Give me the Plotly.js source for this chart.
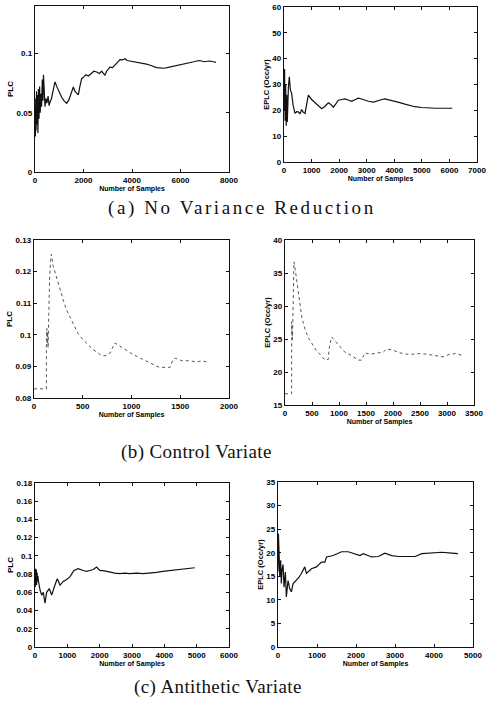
<!DOCTYPE html>
<html>
<head>
<meta charset="utf-8">
<script src="https://cdn.plot.ly/plotly-3.0.1.min.js"></script>
<style>html,body{margin:0;padding:0;background:#fff;}#chart{width:489px;height:704px;}</style>
</head>
<body>
<div id="chart"></div>
<script>
// (a) No Variance Reduction
const aPlcX = [0,15,30,45,60,80,100,120,140,165,190,215,240,270,300,330,350,375,412,450,490,540,580,619,680,740,825,900,1000,1100,1200,1306,1400,1500,1581,1650,1720,1787,1850,1925,2000,2100,2200,2337,2430,2543,2650,2750,2887,2950,3093,3200,3300,3400,3505,3600,3711,3800,3918,4050,4200,4350,4467,4600,4750,4900,5017,5150,5300,5450,5567,5700,5850,6000,6117,6250,6400,6550,6667,6800,6950,7100,7216,7350,7464];
const aPlcY = [0.045,0.03,0.062,0.035,0.068,0.04,0.065,0.033,0.07,0.045,0.072,0.05,0.066,0.055,0.078,0.06,0.082,0.065,0.055,0.062,0.058,0.064,0.056,0.059,0.062,0.068,0.076,0.072,0.067,0.063,0.06,0.058,0.061,0.066,0.0717,0.068,0.066,0.065,0.072,0.0787,0.08,0.082,0.081,0.083,0.085,0.0843,0.083,0.085,0.0815,0.085,0.0885,0.088,0.09,0.092,0.0947,0.0945,0.0955,0.094,0.0936,0.093,0.0925,0.092,0.0913,0.091,0.09,0.0888,0.088,0.0878,0.0875,0.088,0.0885,0.089,0.0895,0.09,0.0908,0.0915,0.0922,0.093,0.0936,0.094,0.093,0.0935,0.0936,0.093,0.0924];
const aEplcX = [0,20,40,60,80,100,120,140,160,193,230,278,330,399,460,520,580,641,700,762,820,882,1000,1124,1250,1367,1480,1608,1700,1789,1880,1970,2100,2212,2330,2455,2570,2695,2850,3058,3250,3421,3550,3663,3850,4026,4200,4389,4550,4751,5000,5235,5500,5719,5900,6104];
const aEplcY = [20,36,16,30,14,26,15.5,24,29,33,28,26.5,22,18.8,19.5,19.4,18.6,20.3,19.2,18.8,22,25.9,24.2,22.9,21.8,20.6,21.5,22.9,22.3,21.2,22.5,23.9,24.2,24.4,24,23.5,24.1,24.7,24.3,23.5,23.2,23.9,24.2,24.4,24,23.5,23,22.4,22,21.4,21.1,20.9,20.8,20.8,20.7,20.8];
// (b) Control Variate
const bPlcX = [0,127,127,132,136,140,144,150,160,170,178,195,213,240,264,300,333,370,401,450,504,560,607,650,693,738,779,796,830,870,916,970,1019,1070,1122,1175,1225,1286,1396,1424,1448,1516,1585,1671,1722,1774];
const bPlcY = [0.0829,0.0829,0.099,0.102,0.097,0.101,0.0958,0.105,0.118,0.1235,0.1255,0.122,0.12,0.117,0.1142,0.111,0.1079,0.1055,0.1032,0.1005,0.0984,0.0967,0.0953,0.0944,0.0934,0.0934,0.0942,0.0953,0.0974,0.0966,0.0958,0.0947,0.0937,0.0929,0.0921,0.0913,0.0905,0.0897,0.0897,0.0921,0.0926,0.0918,0.0918,0.0914,0.0918,0.0914];
const bEplcX = [0,123,123,128,133,138,145,155,166,190,216,246,277,308,339,370,431,462,524,585,647,700,740,801,820,863,940,1017,1109,1233,1356,1418,1479,1572,1695,1818,1880,2004,2126,2250,2372,2496,2620,2742,2927,3051,3174,3285];
const bEplcY = [16.7,16.7,27.6,25,27,24.9,28,33,36.7,35.5,33.9,32.2,29.9,28.5,27.4,26.5,25.2,24.8,23.9,23.2,22.7,22.2,21.8,21.9,23.7,25.3,24.6,24,23,22.5,21.8,21.8,22.9,22.7,22.9,23,23.5,23.3,22.9,22.7,22.7,22.8,22.7,22.5,22.3,22.7,22.8,22.5];
// (c) Antithetic Variate
const cPlcX = [0,10,20,30,40,50,60,75,90,103,130,160,206,257,309,360,443,515,617,690,772,875,978,1081,1204,1338,1492,1600,1698,1800,1904,2007,2150,2316,2470,2624,2780,2933,3150,3345,3550,3756,3950,4168,4380,4580,4760,4940];
const cPlcY = [0.084,0.066,0.086,0.07,0.085,0.068,0.082,0.072,0.078,0.073,0.066,0.062,0.057,0.06,0.048,0.06,0.064,0.057,0.068,0.075,0.068,0.072,0.074,0.077,0.084,0.086,0.084,0.083,0.084,0.085,0.0878,0.084,0.0835,0.082,0.081,0.0805,0.081,0.0805,0.081,0.0805,0.081,0.082,0.083,0.084,0.085,0.086,0.0865,0.087];
const cEplcX = [0,10,26,45,69,85,103,130,154,189,214,257,300,343,386,472,540,600,686,729,858,986,1115,1201,1244,1415,1630,1801,1973,2101,2187,2401,2573,2744,2916,3088,3345,3516,3688,3945,4202,4460,4614];
const cEplcY = [16,24,20.5,14.9,18.4,13.5,16.3,17.5,12.7,15.9,10.6,14.1,12.4,11.7,13.4,14.1,14.8,15.6,17,15.6,16.6,17,18,18,19.1,19.4,20.2,20.2,19.8,19.4,19.8,19.1,19.2,19.9,19.4,19.2,19.2,19.2,19.8,19.9,20.1,19.9,19.8];

const xTitle = "Number of Samples";
const yTitlePlc = "PLC";
const yTitleEplc = "EPLC (Occ/yr)";
const captions = ["(a) No Variance Reduction", "(b) Control Variate", "(c) Antithetic Variate"];

const W = 489, H = 704;
const tickFont = {family: "Liberation Sans, Arial, sans-serif", size: 8, color: "#000", weight: "bold"};
const xTitleFont = {family: "Liberation Sans, Arial, sans-serif", size: 7, color: "#000", weight: "bold"};

function xd(l, r) { return [l / W, r / W]; }
function yd(t, b) { return [1 - b / H, 1 - t / H]; }

function xAxis(dom, range, dtick, anchor) {
  return {domain: dom, range: range, dtick: dtick, tick0: 0, anchor: anchor,
    showline: true, mirror: "allticks", linecolor: "#111", linewidth: 1.2,
    ticks: "inside", ticklen: 3, tickcolor: "#111", showgrid: false, zeroline: false,
    tickfont: tickFont, title: {text: xTitle, font: xTitleFont, standoff: 1}, automargin: false};
}
function yAxis(dom, range, dtick, anchor, title, tsize) {
  return {domain: dom, range: range, dtick: dtick, tick0: 0, anchor: anchor,
    showline: true, mirror: "allticks", linecolor: "#111", linewidth: 1.2,
    ticks: "inside", ticklen: 3, tickcolor: "#111", showgrid: false, zeroline: false,
    tickfont: tickFont,
    title: {text: title, font: {family: "Liberation Sans, Arial, sans-serif", size: tsize, color: "#000", weight: "bold"}, standoff: 1},
    automargin: false};
}

const solid = {color: "#111", width: 1.2};
const faint = {color: "#555", width: 1, dash: "dot"};

const traces = [
  {x: aPlcX, y: aPlcY, xaxis: "x", yaxis: "y", mode: "lines", line: solid},
  {x: aEplcX, y: aEplcY, xaxis: "x2", yaxis: "y2", mode: "lines", line: solid},
  {x: bPlcX, y: bPlcY, xaxis: "x3", yaxis: "y3", mode: "lines", line: faint},
  {x: bEplcX, y: bEplcY, xaxis: "x4", yaxis: "y4", mode: "lines", line: faint},
  {x: cPlcX, y: cPlcY, xaxis: "x5", yaxis: "y5", mode: "lines", line: solid},
  {x: cEplcX, y: cEplcY, xaxis: "x6", yaxis: "y6", mode: "lines", line: solid}
];

function cap(text, cx, cy, spacing) {
  return {text: '<span style="letter-spacing:' + spacing + 'px">' + text + '</span>',
    xref: "paper", yref: "paper", x: cx / W, y: 1 - cy / H,
    xanchor: "center", yanchor: "middle", showarrow: false,
    font: {family: "Liberation Serif, Times New Roman, serif", size: 19, color: "#111"}};
}

const layout = {
  width: W, height: H, margin: {l: 0, r: 0, t: 0, b: 0},
  paper_bgcolor: "#fff", plot_bgcolor: "#fff", showlegend: false,
  xaxis:  xAxis(xd(35, 229), [0, 8000], 2000, "y"),
  yaxis:  yAxis(yd(6, 172), [0, 0.14], 0.05, "x", yTitlePlc, 8),
  xaxis2: xAxis(xd(284, 477), [0, 7000], 1000, "y2"),
  yaxis2: yAxis(yd(7, 162), [0, 60], 10, "x2", yTitleEplc, 7.5),
  xaxis3: xAxis(xd(34, 229), [0, 2000], 500, "y3"),
  yaxis3: yAxis(yd(240, 398), [0.08, 0.13], 0.01, "x3", yTitlePlc, 8),
  xaxis4: xAxis(xd(285, 474), [0, 3500], 500, "y4"),
  yaxis4: yAxis(yd(240, 405), [15, 40], 5, "x4", yTitleEplc, 7.5),
  xaxis5: xAxis(xd(35, 229), [0, 6000], 1000, "y5"),
  yaxis5: yAxis(yd(483, 647), [0, 0.18], 0.02, "x5", yTitlePlc, 8),
  xaxis6: xAxis(xd(278, 473), [0, 5000], 1000, "y6"),
  yaxis6: yAxis(yd(482, 647), [0, 35], 5, "x6", yTitleEplc, 7.5),
  annotations: [
    cap(captions[0], 242, 208, 2.6),
    cap(captions[1], 196, 452, 0.4),
    cap(captions[2], 218, 687, 0.4)
  ]
};

Plotly.newPlot("chart", traces, layout, {staticPlot: true, displayModeBar: false});
</script>
</body>
</html>
